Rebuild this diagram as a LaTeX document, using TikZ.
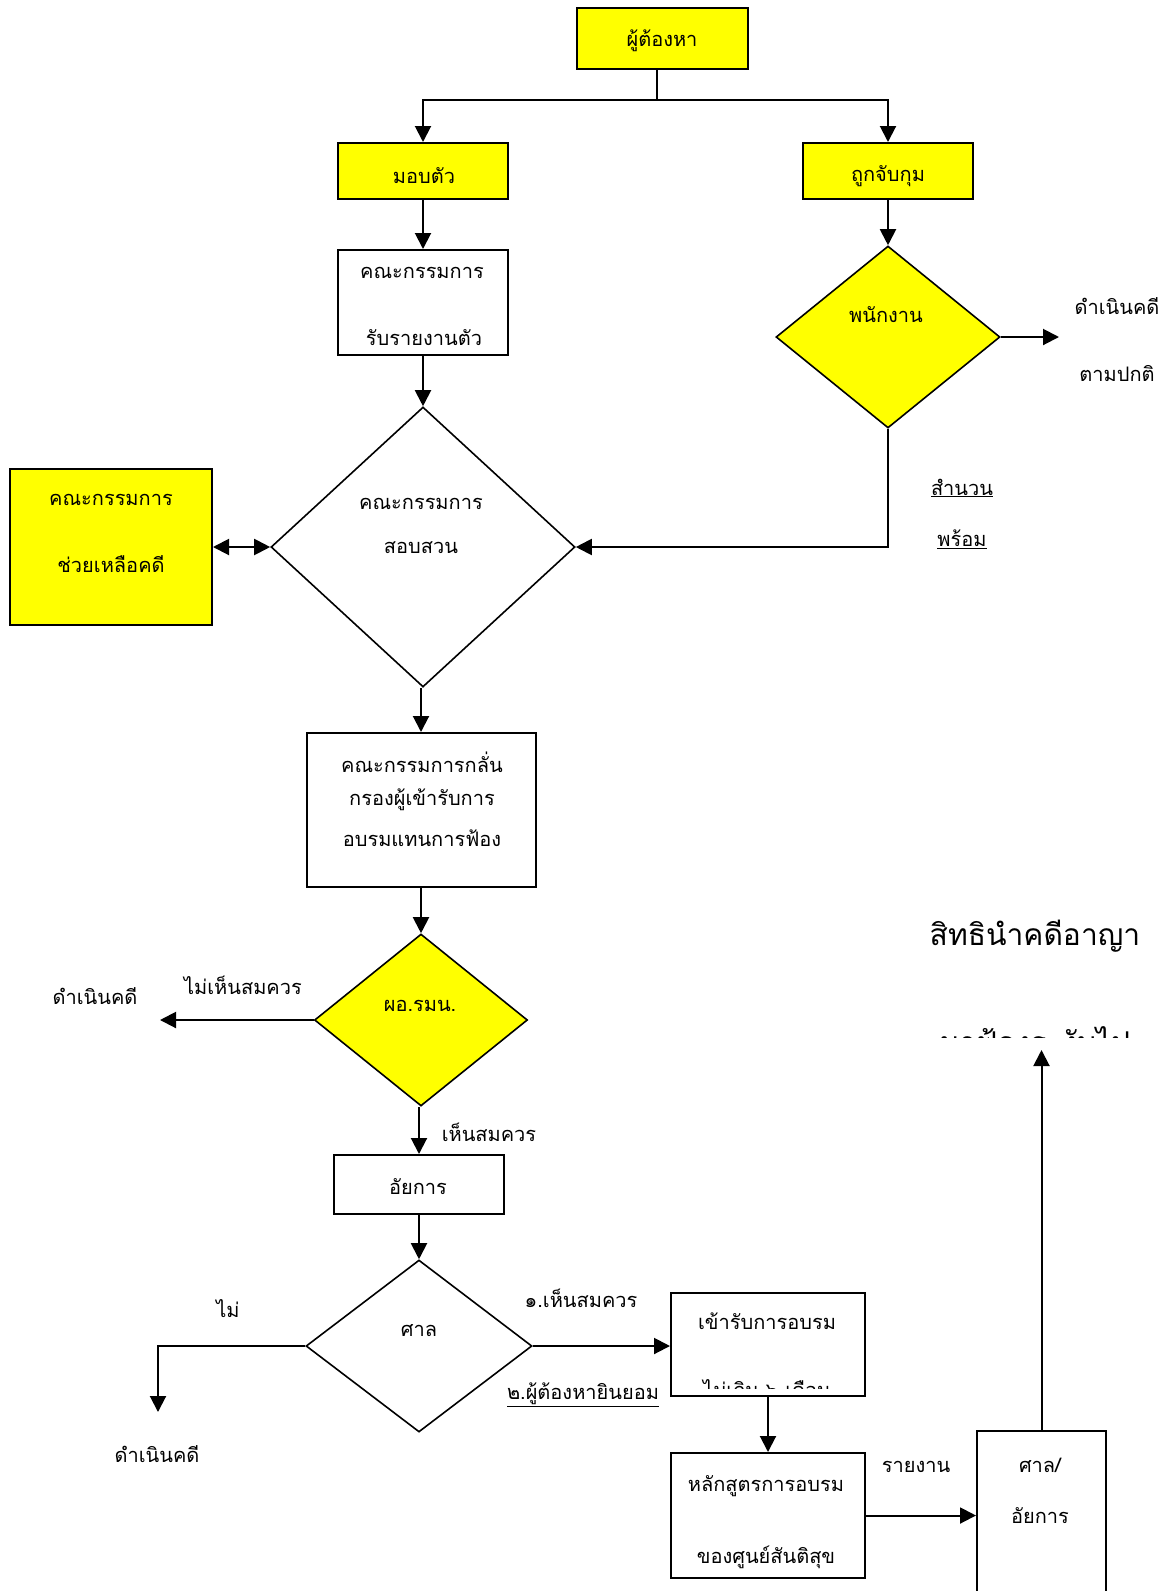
\documentclass[tikz,border=0pt]{standalone}
\usepackage{fontspec}
\newfontfamily\thai[Script=Thai]{Loma}
\usetikzlibrary{arrows.meta,shapes.geometric}
\definecolor{yel}{RGB}{255,255,0}
\begin{document}
\begin{tikzpicture}[x=1pt,y=-1pt,
 box/.style={draw,line width=2pt,inner sep=0pt,rectangle},
 dia/.style={draw,line width=1.6pt,diamond,inner sep=0pt},
 yl/.style={fill=yel},
 txt/.style={font=\thai\fontsize{20}{24}\selectfont,inner sep=0pt,anchor=center},
 bigtxt/.style={font=\thai\fontsize{30}{34}\selectfont,inner sep=0pt,anchor=center},
 arr/.style={line width=2pt,-{Triangle[length=16pt,width=16pt]}},
 ln/.style={line width=2pt},
]
\useasboundingbox[fill=white] (0,0) rectangle (1170,1591);

% boxes
\node[box,yl,minimum width=171pt,minimum height=61pt] (n1) at (662.5,38.5) {};
\node[box,yl,minimum width=170pt,minimum height=56pt] (n2) at (423,171) {};
\node[box,yl,minimum width=170pt,minimum height=56pt] (n3) at (888,171) {};
\node[box,minimum width=170pt,minimum height=105pt] (n4) at (423,302.5) {};
\node[dia,yl,minimum width=224pt,minimum height=182pt] (d1) at (888,337) {};
\node[dia,minimum width=304pt,minimum height=280pt] (d2) at (423,547) {};
\node[box,yl,minimum width=202pt,minimum height=156pt] (n5) at (111,547) {};
\node[box,minimum width=229pt,minimum height=154pt] (n6) at (421,810) {};
\node[dia,yl,minimum width=213pt,minimum height=172pt] (d3) at (421,1020) {};
\node[box,minimum width=170pt,minimum height=59pt] (n7) at (419,1184.5) {};
\node[dia,minimum width=226pt,minimum height=172pt] (d4) at (419,1346) {};
\node[box,minimum width=194pt,minimum height=103pt] (n8) at (768,1344.5) {};
\node[box,minimum width=194pt,minimum height=125pt] (n9) at (768,1515.5) {};
\node[box,minimum width=129pt,minimum height=220pt] (n10) at (1041.5,1541) {};

% texts
\node[txt] (t1) at (662,41) {ผู้ต้องหา};
\node[txt] (t2) at (424,176) {มอบตัว};
\node[txt] (t3) at (888,176) {ถูกจับกุม};
\node[txt] (t4a) at (422,273) {คณะกรรมการ};
\node[txt] (t4b) at (424,338) {รับรายงานตัว};
\node[txt] (t5) at (886,315) {พนักงาน};
\node[txt] (t6a) at (1117,306) {ดำเนินคดี};
\node[txt] (t6b) at (1117,374) {ตามปกติ};
\node[txt] (t7a) at (962,488) {\underline{สำนวน}};
\node[txt] (t7b) at (962,539) {\underline{พร้อม}};
\node[txt] (t8a) at (421,504) {คณะกรรมการ};
\node[txt] (t8b) at (421,548) {สอบสวน};
\node[txt] (t9a) at (111,500) {คณะกรรมการ};
\node[txt] (t9b) at (111,564) {ช่วยเหลือคดี};
\node[txt] (t10a) at (422,762) {คณะกรรมการกลั่น};
\node[txt] (t10b) at (422,800) {กรองผู้เข้ารับการ};
\node[txt] (t10c) at (422,838) {อบรมแทนการฟ้อง};
\node[txt] (t11) at (420,1006) {ผอ.รมน.};
\node[txt] (t12) at (243,985) {ไม่เห็นสมควร};
\node[txt] (t13) at (95,996) {ดำเนินคดี};
\node[txt] (t14) at (489,1132) {เห็นสมควร};
\node[txt] (t15) at (418,1187) {อัยการ};
\node[txt] (t16) at (419,1331) {ศาล};
\node[txt] (t17) at (228,1309) {ไม่};
\node[txt] (t18) at (157,1454) {ดำเนินคดี};
\node[txt] (t19) at (581,1298) {๑.เห็นสมควร};
\node[txt] (t20) at (583,1395) {\underline{๒.ผู้ต้องหายินยอม}};
\node[txt] (t21) at (767,1321) {เข้ารับการอบรม};
\begin{scope}
\clip (671,1293) rectangle (865,1388);
\node[txt] (t22) at (767,1389) {ไม่เกิน ๖ เดือน};
\end{scope}
\node[txt] (t23a) at (766,1486) {หลักสูตรการอบรม};
\node[txt] (t23b) at (766,1557) {ของศูนย์สันติสุข};
\node[txt] (t24) at (916,1467) {รายงาน};
\node[txt] (t25a) at (1040,1465) {ศาล/};
\node[txt] (t25b) at (1040,1516) {อัยการ};
\node[bigtxt] (t26) at (1035,936) {สิทธินำคดีอาญา};
\begin{scope}
\clip (900,1000) rectangle (1170,1037);
\node[bigtxt] (t27) at (1035,1040) {มาฟ้องระงับไป};
\end{scope}

% connectors
\coordinate (j) at (657,100);
\draw[ln] (j |- n1.south) -- (j);
\draw[arr] (j) -| (n2.north);
\draw[arr] (j) -| (n3.north);
\draw[arr] (n2.south) -- (n4.north);
\draw[arr] (n3.south) -- (d1.north);
\coordinate (c1) at (1059,337);
\draw[arr] (d1.east) -- (c1);
\draw[arr] (n4.south) -- (d2.north);
\draw[arr] (d1.south) |- (d2.east);
\draw[line width=2pt,{Triangle[length=16pt,width=16pt]}-{Triangle[length=16pt,width=16pt]}] (n5.east) -- (d2.west);
\draw[arr] (d2.south -| n6.north) -- (n6.north);
\draw[arr] (n6.south) -- (d3.north);
\coordinate (c2) at (160,1020);
\draw[arr] (d3.west) -- (c2);
\draw[arr] (d3.south -| n7.north) -- (n7.north);
\draw[arr] (n7.south) -- (d4.north);
\coordinate (c3) at (158,1412);
\draw[arr] (d4.west) -| (c3);
\draw[arr] (d4.east) -- (d4.east -| n8.west);
\draw[arr] (n8.south) -- (n9.north);
\draw[arr] (n9.east) -- (n9.east -| n10.west);
\coordinate (c4) at (1041.5,1050);
\draw[arr] (n10.north) -- (c4);
\end{tikzpicture}
\end{document}
